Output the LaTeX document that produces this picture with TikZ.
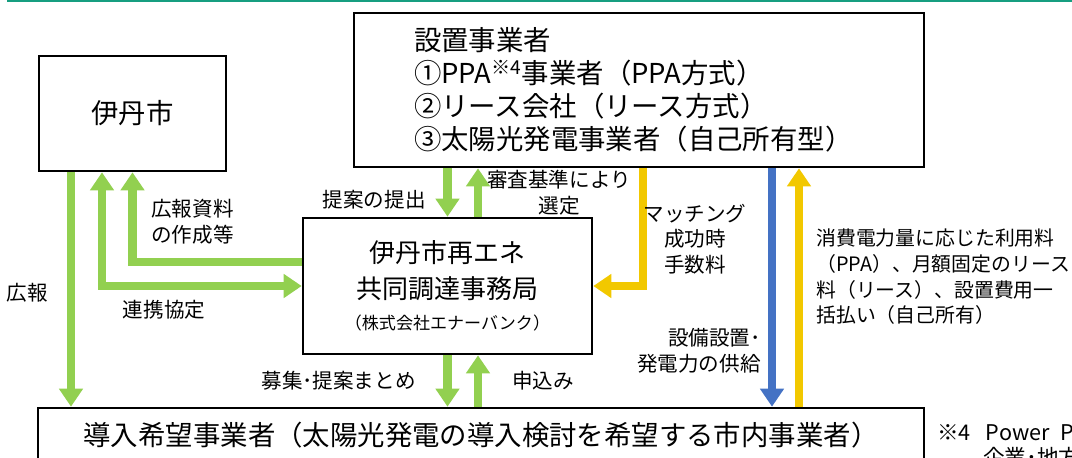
\documentclass[tikz,border=0pt]{standalone}
\usepackage{fontspec}
\setmainfont{Noto Sans CJK JP}
\usetikzlibrary{arrows.meta}
\definecolor{itagreen}{RGB}{146, 208, 80}
\definecolor{itayellow}{RGB}{242, 200, 0}
\definecolor{itablue}{RGB}{68, 114, 196}
\definecolor{itateal}{RGB}{22, 158, 128}
\newcommand{\bigtxt}{\fontsize{15.6}{20.4}\selectfont}
\newcommand{\smalltxt}{\fontsize{11.7}{14.6}\selectfont}

\begin{document}
\begin{tikzpicture}[x=0.02cm,y=-0.02cm,
    box/.style={draw,line width=1.5pt,inner sep=0pt,font=\bigtxt},
    lbl/.style={inner sep=0pt,font=\smalltxt},
    flow/.style={line width=4.6pt},
    >={Triangle[width=0.46cm,length=0.36cm]}]
        \useasboundingbox (0,0) rectangle (1072,457);
        \clip (0,0) rectangle (1072,457);
        %\draw[step=50,gray,very thin] (0,0) grid (1072,457);
        \draw[itateal,line width=1.6pt] (7,0.8) -- (1072,0.8);
        \node[box,minimum width=3.74cm,minimum height=2.3cm] (city) at (132.5,113.5) {伊丹市};
        \node[box,minimum width=11.4cm,minimum height=3.08cm,text width=9cm,inner xsep=1.2cm,align=left,font=\fontsize{15.6}{18.7}\selectfont] (setter) at (639,90)
          {設置事業者\\①PPA\textsuperscript{※4}事業者（PPA方式）\\②リース会社（リース方式）\\③太陽光発電事業者（自己所有型）};
        \node[box,minimum width=5.78cm,minimum height=2.72cm,align=center,font=\fontsize{14.8}{20.4}\selectfont] (office) at (447.5,286)
          {伊丹市再エネ\\共同調達事務局\\[-3pt]{\fontsize{9.7}{12}\selectfont （株式会社エナーバンク）}};
        \node[box,minimum width=17.72cm,minimum height=1.08cm] (users) at (481,435)
          {導入希望事業者（太陽光発電の導入検討を希望する市内事業者）\hspace{0.52cm}};
        \coordinate (lane1) at (71,0);
        \coordinate (lane2) at (102,0);
        \coordinate (select) at (478,0);
        \coordinate (fee) at (643,0);
        \coordinate (supply) at (772,0);
        \coordinate (pay) at (799,0);
        \draw[flow,itagreen,->] (city.south -| lane1) -- (users.north -| lane1);
        \draw[flow,itagreen,<->] (city.south -| lane2) |- (office.west);
        \draw[flow,itagreen,->] ([yshift=0.48cm]office.west) -| (city.south);
        \draw[flow,itagreen,->] (setter.south -| office.north) -- (office.north);
        \draw[flow,itagreen,->] (office.north -| select) -- (setter.south -| select);
        \draw[flow,itayellow,->] (setter.south -| fee) |- (office.east);
        \draw[flow,itablue,->] (setter.south -| supply) -- (users.north -| supply);
        \draw[flow,itayellow,->] (users.north -| pay) -- (setter.south -| pay);
        \draw[flow,itagreen,->] (office.south) -- (users.north -| office.south);
        \draw[flow,itagreen,->] (users.north -| select) -- (office.south -| select);
        \node[lbl] (kohoL) at (27,293) {広報};
        \node[lbl,anchor=west,align=left] (materialL) at (151,222) {広報資料\\の作成等};
        \node[lbl] (tieupL) at (164,310) {連携協定};
        \node[lbl,anchor=east] (proposeL) at (426,200) {提案の提出};
        \node[lbl,align=center] (selectL) at (559,193) {審査基準により\\選定};
        \node[lbl,align=center] (feeL) at (695,239) {マッチング\\成功時\\手数料};
        \node[lbl,anchor=east,align=right] (supplyL) at (761,351) {設備設置･\\発電力の供給};
        \node[lbl,anchor=west,align=left,font=\fontsize{11.3}{14.6}\selectfont] (payL) at (816,277)
          {消費電力量に応じた利用料\\（PPA）、月額固定のリース\\料（リース）、設置費用一\\括払い（自己所有）};
        \node[lbl,anchor=east] (gatherL) at (416,381) {募集･提案まとめ};
        \node[lbl,anchor=west] (applyL) at (512,381) {申込み};
        \node[lbl,anchor=west,font=\fontsize{12.3}{14}\selectfont] (noteL) at (937,433) {※4\hspace{0.3cm}Power\hspace{0.22cm}P};
        \node[lbl,anchor=west,font=\fontsize{12.3}{14}\selectfont] (note2L) at (983,457) {企業･地方};
\end{tikzpicture}
\end{document}
